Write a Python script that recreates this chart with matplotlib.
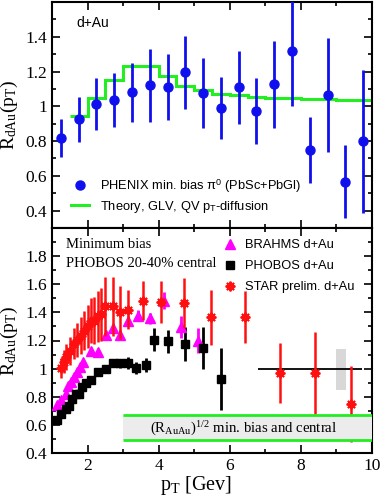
import matplotlib
matplotlib.use("Agg")
import matplotlib.pyplot as plt
from matplotlib.ticker import MultipleLocator
import numpy as np

plt.rcParams['font.family'] = ['Liberation Serif', 'DejaVu Serif']
plt.rcParams['mathtext.fontset'] = 'custom'
plt.rcParams['mathtext.rm'] = 'Liberation Serif'
plt.rcParams['mathtext.sf'] = 'Liberation Sans'
plt.rcParams['mathtext.it'] = 'Liberation Serif:italic'

# ---------------- top panel data ----------------
phenix_x = [1.25, 1.75, 2.25, 2.75, 3.25, 3.75, 4.25, 4.75, 5.25, 5.75, 6.25, 6.75,
            7.25, 7.75, 8.25, 8.75, 9.25, 9.75]
phenix_y = [0.817, 0.925, 1.015, 1.035, 1.08, 1.12, 1.11, 1.196, 1.077, 0.99, 1.11, 0.973,
            1.127, 1.32, 0.748, 1.065, 0.566, 0.798]
phenix_err = [0.11, 0.13, 0.15, 0.155, 0.17, 0.21, 0.19, 0.21, 0.20, 0.18, 0.21, 0.19,
              0.25, 0.32, 0.19, 0.33, 0.21, 0.41]

theory_edges = [1.5, 2.0, 2.5, 3.0, 3.5, 4.0, 4.5, 5.0, 5.5, 6.0, 6.5, 7.0, 7.5, 8.0,
                8.5, 9.0, 9.5, 10.0]
theory_vals = [0.944, 1.048, 1.152, 1.229, 1.229, 1.173, 1.117, 1.092, 1.073, 1.063,
               1.056, 1.050, 1.046, 1.042, 1.040, 1.038, 1.036]

# ---------------- bottom panel data ----------------
phobos_x = [1.14, 1.26, 1.38, 1.49, 1.56, 1.675, 1.77, 1.855, 1.96, 2.10, 2.30, 2.51,
            2.71, 2.91, 3.13, 3.36, 3.63, 3.87, 4.25, 4.75, 5.25, 5.74]
phobos_y = [0.637, 0.68, 0.715, 0.732, 0.784, 0.82, 0.82, 0.872, 0.898, 0.917, 0.976, 0.995,
            1.04, 1.037, 1.04, 1.005, 1.028, 1.206, 1.194, 1.175, 1.145, 0.927]
phobos_err = [0.02, 0.02, 0.02, 0.02, 0.02, 0.02, 0.02, 0.02, 0.02, 0.02, 0.02, 0.025,
              0.03, 0.03, 0.04, 0.04, 0.05, 0.08, 0.08, 0.12, 0.15, 0.22]

brahms_x = [1.14, 1.26, 1.38, 1.45, 1.53, 1.61, 1.69, 1.78, 1.88, 2.09, 2.29, 2.51, 2.71,
            2.91, 3.13, 3.43, 3.75, 4.15, 4.63, 5.12]
brahms_y = [0.739, 0.779, 0.822, 0.874, 0.905, 0.94, 0.974, 1.012, 1.045, 1.128, 1.116,
            1.237, 1.29, 1.242, 1.342, 1.377, 1.358, 1.484, 1.297, 1.20]
brahms_err = [0.01, 0.01, 0.01, 0.01, 0.01, 0.01, 0.01, 0.01, 0.01, 0.01, 0.01, 0.02, 0.03,
              0.03, 0.03, 0.04, 0.04, 0.06, 0.08, 0.09]

star_x = [1.245, 1.33, 1.40, 1.52, 1.63, 1.71, 1.82, 1.90, 2.0, 2.09, 2.18, 2.29, 2.38,
          2.49, 2.71, 2.90, 3.15, 3.56, 4.06, 4.70, 5.46, 6.42, 7.42, 8.40, 9.41]
star_y = [1.005, 1.05, 1.083, 1.123, 1.178, 1.206, 1.235, 1.27, 1.30, 1.342, 1.342, 1.372,
          1.385, 1.444, 1.444, 1.40, 1.42, 1.484, 1.472, 1.468, 1.365, 1.365, 0.969, 0.969,
          0.749]
star_err = [0.07, 0.08, 0.09, 0.10, 0.11, 0.12, 0.13, 0.14, 0.15, 0.16, 0.17, 0.18, 0.19,
            0.21, 0.21, 0.19, 0.14, 0.14, 0.15, 0.18, 0.195, 0.185, 0.21, 0.29, 0.27]

ref_line_x = [6.8, 9.72]
ref_line_y = 1.0
sys_box_x = [8.98, 9.28]
sys_box_y = [0.85, 1.14]
band_x = [3.0, 10.0]
band_y = [0.49, 0.672]

fig = plt.figure(figsize=(3.82, 4.97), dpi=100)
ax1 = fig.add_axes([52/382, 1-228/497, 320/382, 226/497])
ax2 = fig.add_axes([52/382, 1-453/497, 320/382, 225/497])

TICKFS = 12.5
for ax in (ax1, ax2):
    ax.set_xlim(1, 10)
    ax.xaxis.set_major_locator(MultipleLocator(2))
    ax.xaxis.set_minor_locator(MultipleLocator(1))
    ax.yaxis.set_major_locator(MultipleLocator(0.2))
    ax.yaxis.set_minor_locator(MultipleLocator(0.1))
    ax.tick_params(which='both', direction='in', top=True, right=True, labelsize=TICKFS,
                   width=1.2)
    ax.tick_params(which='major', length=6)
    ax.tick_params(which='minor', length=3)
    for s in ax.spines.values():
        s.set_linewidth(1.5)

def fmt(v, pos):
    s = f"{v:.1f}"
    if s == "1.0":
        return "1"
    return s

# ---- top panel ----
ax1.set_ylim(0.3, 1.6)
ax1.set_yticks([0.4, 0.6, 0.8, 1.0, 1.2, 1.4])
ax1.yaxis.set_major_formatter(plt.FuncFormatter(fmt))
ax1.tick_params(labelbottom=False)
theory = ax1.stairs(theory_vals, theory_edges, color='#22ee22', lw=2.2, baseline=None,
                    zorder=2)
phenix = ax1.errorbar(phenix_x, phenix_y, yerr=phenix_err, fmt='o', color='#1010ee', ms=6.5,
                      elinewidth=2, capsize=0, zorder=3)
ax1.text(0.075, 0.905, 'd+Au', transform=ax1.transAxes, fontsize=10,
         family='Liberation Sans', va='center', ha='left')
theory_handle = plt.Line2D([], [], color='#22ee22', lw=2.2)
ax1.legend([phenix[0], theory_handle],
           [r'PHENIX min. bias π$^{\mathsf{0}}$ (PbSc+PbGl)',
            r'Theory, GLV, QV p$_{\mathsf{T}}$-diffusion'],
           loc='upper left', bbox_to_anchor=(0.06, 0.225), frameon=False,
           prop={'family': 'Liberation Sans', 'size': 9.3}, handlelength=1.4,
           handletextpad=0.8, borderpad=0, borderaxespad=0, labelspacing=0.3)
ax1.set_ylabel(r'R$_{\rm dAu}$(p$_{\rm T}$)', fontsize=14)
ax1.yaxis.set_label_coords(-0.1, 0.5)

# ---- bottom panel ----
ax2.set_ylim(0.4, 2.0)
ax2.set_yticks([0.4, 0.6, 0.8, 1.0, 1.2, 1.4, 1.6, 1.8])
ax2.yaxis.set_major_formatter(plt.FuncFormatter(fmt))
ax2.set_xticks([2, 4, 6, 8, 10])

ax2.fill_between(band_x, band_y[0], band_y[1], color='#ececec', zorder=5, lw=0)
ax2.hlines(band_y, band_x[0], band_x[1], colors='#22ee22', lw=2, zorder=6)
ax2.text(6.4, 0.572, r'(R$_{\rm AuAu}$)$^{\rm 1/2}$ min. bias and central', fontsize=10.6,
         ha='center', va='center', zorder=7)

ax2.fill_between(sys_box_x, sys_box_y[0], sys_box_y[1], color='#d8d8d8', lw=0, zorder=1)
ax2.hlines(ref_line_y, ref_line_x[0], ref_line_x[1], colors='black', lw=1.3, zorder=2)

brahms = ax2.errorbar(brahms_x, brahms_y, yerr=brahms_err, fmt='^', color='#ff00ff', ms=7,
                      elinewidth=2, capsize=0, zorder=3)
phobos = ax2.errorbar(phobos_x, phobos_y, yerr=phobos_err, fmt='s', color='black', ms=5.5,
                      elinewidth=2, capsize=0, zorder=3)
ax2.errorbar(star_x, star_y, yerr=star_err, fmt='none', ecolor='#ff1010',
             elinewidth=1.8, capsize=0, zorder=4)
star, = ax2.plot(star_x, star_y, linestyle='none', marker=(8, 2, 0), color='#ff1010', ms=7,
                 mew=1.4, zorder=4)

ax2.text(0.045, 0.925, 'Minimum bias', transform=ax2.transAxes, fontsize=10.5,
         va='center', ha='left')
ax2.text(0.045, 0.84, 'PHOBOS 20-40% central', transform=ax2.transAxes, fontsize=10.5,
         va='center', ha='left')
ax2.legend([brahms[0], phobos[0], star],
           ['BRAHMS d+Au', 'PHOBOS d+Au', 'STAR prelim. d+Au'],
           loc='upper left', bbox_to_anchor=(0.535, 0.95), frameon=False,
           prop={'family': 'Liberation Sans', 'size': 9.3}, handlelength=1.0,
           handletextpad=0.7, borderpad=0, borderaxespad=0, labelspacing=0.7)

ax2.set_ylabel(r'R$_{\rm dAu}$(p$_{\rm T}$)', fontsize=14)
ax2.yaxis.set_label_coords(-0.1, 0.5)
ax2.set_xlabel(r'p$_{\rm T}$ [Gev]', fontsize=14.5)
ax2.xaxis.set_label_coords(0.45, -0.095)

fig.savefig('out.png', dpi=100)
